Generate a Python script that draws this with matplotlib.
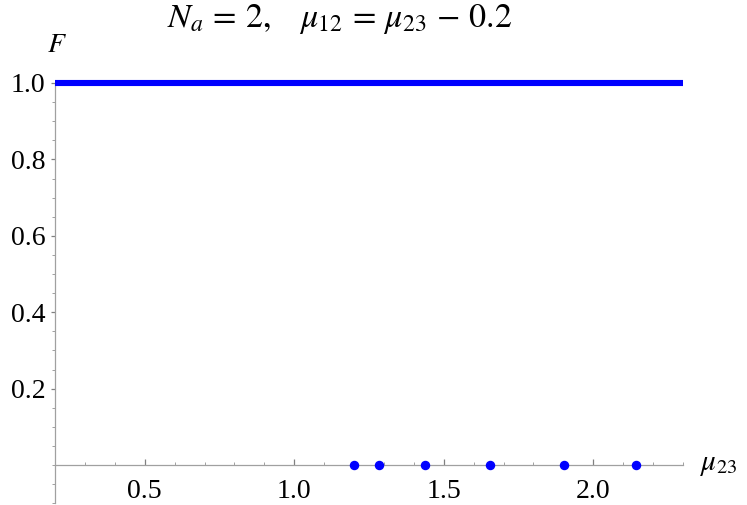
import matplotlib
matplotlib.use("Agg")
import matplotlib.pyplot as plt
from matplotlib.ticker import MultipleLocator

# Data
x_line = [0.2, 2.3]
F_line = [1.0, 1.0]
mu23_points = [1.201, 1.285, 1.436, 1.653, 1.903, 2.143]
F_points = [0.0, 0.0, 0.0, 0.0, 0.0, 0.0]
x_ticks = [0.5, 1.0, 1.5, 2.0]
y_ticks = [0.2, 0.4, 0.6, 0.8, 1.0]

plt.rcParams['font.family'] = ['Liberation Serif', 'DejaVu Serif']
plt.rcParams['mathtext.fontset'] = 'stix'

fig = plt.figure(figsize=(7.47, 5.05), dpi=100)
W, H = 747, 505
x0, x1 = 55, 683
ytop, ybot = 83, 503.2
ax = fig.add_axes([x0 / W, 1 - ybot / H, (x1 - x0) / W, (ybot - ytop) / H])
ax.set_xlim(0.2, 2.3)
ax.set_ylim(-0.1, 1.0)

blue = '#0000ff'
ax.plot(x_line, F_line, color=blue, linewidth=4.4, solid_capstyle='butt', clip_on=False, zorder=3)
ax.plot(mu23_points, F_points, 'o', color=blue, markersize=5.8, clip_on=False, zorder=4)

axcol = '#a0a0a0'
for s in ['top', 'right']:
    ax.spines[s].set_visible(False)
ax.spines['bottom'].set_position(('data', 0))
ax.spines['left'].set_position(('data', 0.2))
for s in ['bottom', 'left']:
    ax.spines[s].set_color(axcol)
    ax.spines[s].set_linewidth(0.9)

ax.set_xticks(x_ticks)
ax.set_xticklabels([f"{v:.1f}" for v in x_ticks])
ax.set_yticks(y_ticks)
ax.set_yticklabels([f"{v:.1f}" for v in y_ticks])
ax.xaxis.set_minor_locator(MultipleLocator(0.1))
ax.yaxis.set_minor_locator(MultipleLocator(0.05))

ax.tick_params(axis='x', which='major', direction='in', length=4, width=0.9, color='#808080',
               labelsize=20, pad=10)
ax.tick_params(axis='x', which='minor', direction='in', length=2.5, width=0.7, color=axcol)
ax.tick_params(axis='y', which='major', direction='out', length=3, width=0.9, color='#808080',
               labelsize=20, pad=4)
ax.tick_params(axis='y', which='minor', direction='out', length=2, width=0.7, color=axcol)

fig.text(700 / W, 1 - 465 / H, r'$\mu_{23}$', fontsize=21, ha='left', va='center')
fig.text(57 / W, 1 - 45 / H, r'$F$', fontsize=20, ha='center', va='center')
fig.text(340 / W, 1 - 19 / H, r'$N_a\,=\,2,\quad\mu_{12}\,=\,\mu_{23}\,-\,0.2$',
         fontsize=24.5, ha='center', va='center')

fig.savefig('out.png', dpi=100)
